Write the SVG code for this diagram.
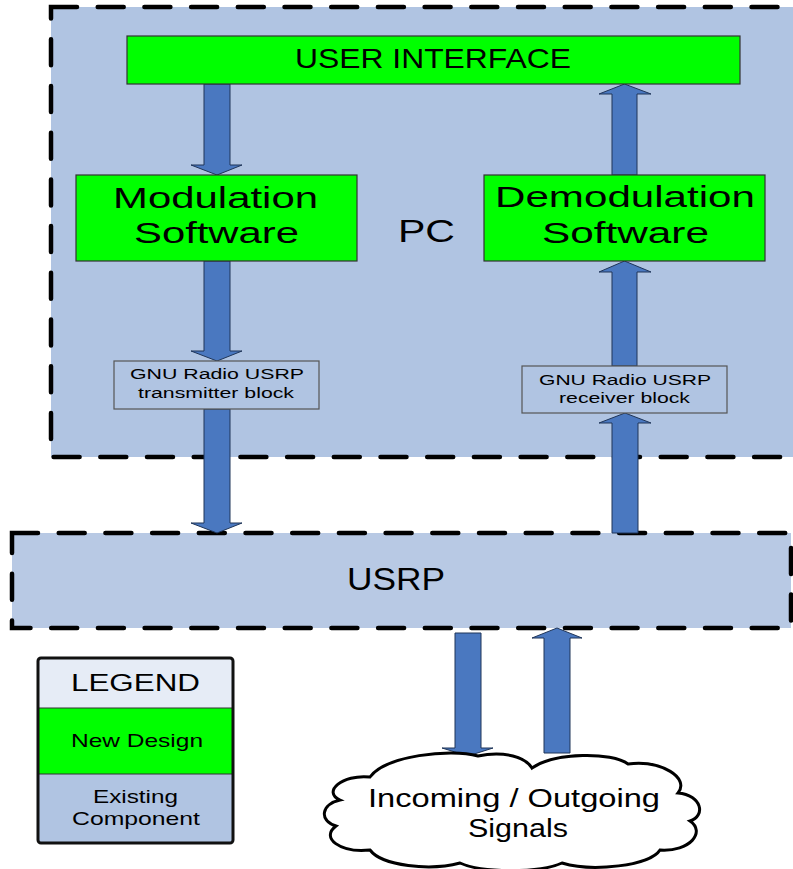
<svg xmlns="http://www.w3.org/2000/svg" width="793" height="869" viewBox="0 0 793 869">
  <style>
    text { font-family: "Liberation Sans", Arial, sans-serif; fill: #000; }
    .container { stroke: #000; stroke-width: 4.5; stroke-linecap: round; stroke-dasharray: 26 20.7; }
    .pc { fill: #B0C4E2; }
    .usrp { fill: #B8C9E4; }
    .newdesign { fill: #00FF00; stroke: #333; stroke-width: 1.2; }
    .existing { fill: #B0C4E2; stroke: #555; stroke-width: 1.2; }
    .arrow { fill: #4A78C0; stroke: #1F3558; stroke-width: 1; }
    .cloud { fill: #FFFFFF; stroke: #000; stroke-width: 3; }
  </style>

  <!-- PC container -->
  <g id="pc">
    <rect class="container pc" x="51" y="7" width="770" height="450"/>
    <text x="398" y="242" font-size="31" textLength="57" lengthAdjust="spacingAndGlyphs">PC</text>
  </g>

  <!-- USRP hardware -->
  <g id="usrp">
    <rect class="container usrp" x="12" y="533" width="779" height="95"/>
    <text x="347" y="590" font-size="31" textLength="98" lengthAdjust="spacingAndGlyphs">USRP</text>
  </g>

  <!-- Connectors (block arrows) -->
  <g id="connectors">
    <!-- UI -> Modulation -->
    <polygon class="arrow" points="204,84 230,84 230,165 242,165 217,175 191,165 204,165"/>
    <!-- Modulation -> TX block -->
    <polygon class="arrow" points="204,261 230,261 230,351 242,351 217,361 191,351 204,351"/>
    <!-- TX block -> USRP -->
    <polygon class="arrow" points="204,409 230,409 230,523 242,523 217,533 191,523 204,523"/>
    <!-- Demodulation -> UI -->
    <polygon class="arrow" points="612,175 637,175 637,94 651,94 624.5,84 599,94 612,94"/>
    <!-- RX block -> Demodulation -->
    <polygon class="arrow" points="612,366 637,366 637,272 651,272 624.5,261 599,272 612,272"/>
    <!-- USRP -> RX block -->
    <polygon class="arrow" points="612,533 638,533 638,423 651,423 625,413 599,423 612,423"/>
    <!-- USRP -> air -->
    <polygon class="arrow" points="455,633 481,633 481,748 493,748 468,756 442,748 455,748"/>
    <!-- air -> USRP -->
    <polygon class="arrow" points="544,753 570,753 570,638 582,638 557,628 532,638 544,638"/>
  </g>

  <!-- User interface -->
  <g id="user-interface">
    <rect class="newdesign" x="127" y="36" width="613" height="48"/>
    <text x="295" y="68" font-size="28" textLength="276" lengthAdjust="spacingAndGlyphs">USER INTERFACE</text>
  </g>

  <!-- Modulation software -->
  <g id="modulation">
    <rect class="newdesign" x="76" y="175" width="281" height="86"/>
    <text x="113" y="208" font-size="30" textLength="205" lengthAdjust="spacingAndGlyphs">Modulation</text>
    <text x="134" y="243" font-size="30" textLength="165" lengthAdjust="spacingAndGlyphs">Software</text>
  </g>

  <!-- Demodulation software -->
  <g id="demodulation">
    <rect class="newdesign" x="484" y="175" width="281" height="86"/>
    <text x="495" y="207" font-size="30" textLength="260" lengthAdjust="spacingAndGlyphs">Demodulation</text>
    <text x="542" y="243" font-size="30" textLength="167" lengthAdjust="spacingAndGlyphs">Software</text>
  </g>

  <!-- GNU Radio transmitter block -->
  <g id="tx-block">
    <rect class="existing" x="114" y="361" width="205" height="48"/>
    <text x="130" y="379" font-size="15.5" textLength="174" lengthAdjust="spacingAndGlyphs">GNU Radio USRP</text>
    <text x="138" y="398" font-size="15.5" textLength="156" lengthAdjust="spacingAndGlyphs">transmitter block</text>
  </g>

  <!-- GNU Radio receiver block -->
  <g id="rx-block">
    <rect class="existing" x="522" y="366" width="205" height="47"/>
    <text x="539" y="385" font-size="15.5" textLength="172" lengthAdjust="spacingAndGlyphs">GNU Radio USRP</text>
    <text x="559" y="403" font-size="15.5" textLength="131" lengthAdjust="spacingAndGlyphs">receiver block</text>
  </g>

  <!-- Signals cloud -->
  <g id="signals">
    <path class="cloud" d="M 340,800
      C 322,792 342,774 370,777
      C 385,756 450,748 478,756
      C 505,750 526,758 532,768
      C 555,752 612,752 628,764
      C 662,760 690,778 678,793
      C 702,795 706,816 690,821
      C 706,832 690,852 660,850
      C 650,866 592,872 562,863
      C 540,873 482,873 460,863
      C 430,871 382,866 370,850
      C 340,853 320,838 336,826
      C 318,820 322,804 340,800 Z"/>
    <text x="368" y="807" font-size="26" textLength="292" lengthAdjust="spacingAndGlyphs">Incoming / Outgoing</text>
    <text x="468" y="837" font-size="26" textLength="100" lengthAdjust="spacingAndGlyphs">Signals</text>
  </g>

  <!-- Legend -->
  <g id="legend">
    <rect x="38" y="658" width="195" height="185" rx="3" fill="#B0C4E2"/>
    <rect x="38" y="658" width="195" height="50" fill="#E6ECF6"/>
    <rect x="38" y="708" width="195" height="66" fill="#00FF00"/>
    <line x1="38" y1="708" x2="233" y2="708" stroke="#333" stroke-width="1.2"/>
    <line x1="38" y1="774" x2="233" y2="774" stroke="#333" stroke-width="1.2"/>
    <rect x="38" y="658" width="195" height="185" rx="3" fill="none" stroke="#111" stroke-width="3"/>
    <text x="71" y="691" font-size="23" textLength="129" lengthAdjust="spacingAndGlyphs">LEGEND</text>
    <text x="71" y="747" font-size="19" textLength="132" lengthAdjust="spacingAndGlyphs">New Design</text>
    <text x="93" y="803" font-size="19" textLength="85" lengthAdjust="spacingAndGlyphs">Existing</text>
    <text x="72" y="825" font-size="19" textLength="128" lengthAdjust="spacingAndGlyphs">Component</text>
  </g>
</svg>
